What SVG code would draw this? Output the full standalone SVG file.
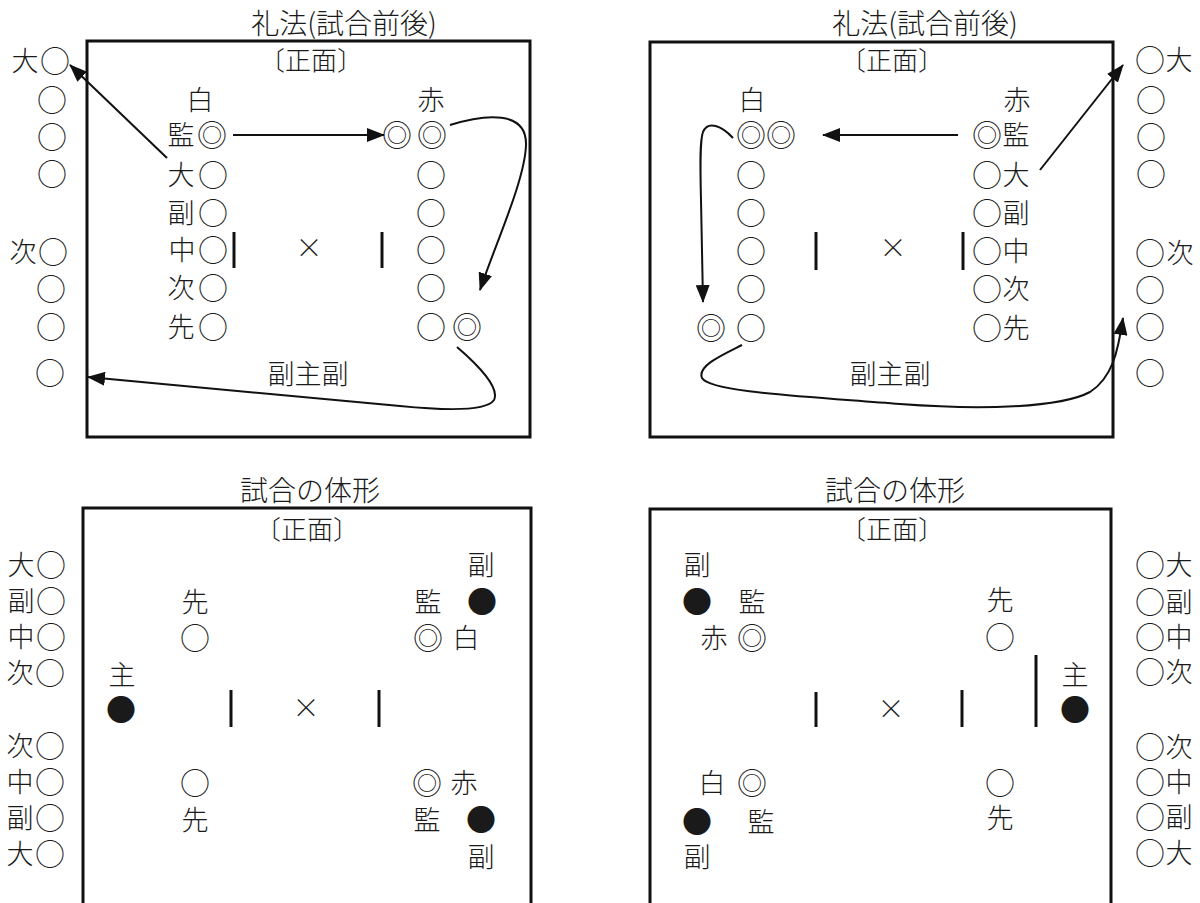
<svg xmlns="http://www.w3.org/2000/svg" width="1200" height="903" viewBox="0 0 1200 903">
<defs>
<style>
text { font-family: "Noto Sans CJK JP", "Noto Sans CJK SC", sans-serif; fill: #1a1a1a; font-weight: 300; }
.b { font-size: 27px; text-anchor: middle; }
.h { font-size: 28px; text-anchor: middle; }
.f { font-size: 26px; text-anchor: middle; }
.c { font-size: 30px; }
tspan.c { baseline-shift: -1px; }
.frame { fill: none; stroke: #111; stroke-width: 3; }
.bar { stroke: #111; stroke-width: 3; }
.arr { fill: none; stroke: #111; stroke-width: 2; marker-end: url(#ah); }
</style>
<marker id="ah" markerUnits="userSpaceOnUse" markerWidth="18" markerHeight="14" refX="17" refY="7" orient="auto"><path d="M0,0 L18,7 L0,14 z" fill="#111"/></marker>
</defs>
<rect width="1200" height="903" fill="#fff"/>

<!-- ===== Top-left panel ===== -->
<g id="panel-tl">
  <text class="h" x="344" y="34">礼法(試合前後)</text>
  <rect class="frame" x="87" y="41" width="443" height="396"/>
  <text class="f" x="311" y="70">〔正面〕</text>
  <text class="b" x="308" y="384">副主副</text>
  <text class="b" x="309" y="258">×</text>
  <line class="bar" x1="234" y1="232" x2="234" y2="268"/>
  <line class="bar" x1="382" y1="232" x2="382" y2="268"/>
</g>
<g id="tl-white">
  <text class="b" x="200" y="110">白</text>
  <text class="b" y="145"><tspan x="181">監</tspan><tspan class="c" x="212">◎</tspan></text>
  <text class="b" y="185"><tspan x="181">大</tspan><tspan class="c" x="213">○</tspan></text>
  <text class="b" y="223"><tspan x="181">副</tspan><tspan class="c" x="213">○</tspan></text>
  <text class="b" y="260"><tspan x="182">中</tspan><tspan class="c" x="213">○</tspan></text>
  <text class="b" y="298"><tspan x="181">次</tspan><tspan class="c" x="213">○</tspan></text>
  <text class="b" y="337"><tspan x="181">先</tspan><tspan class="c" x="213">○</tspan></text>
</g>
<g id="tl-red">
  <text class="b" x="431" y="110">赤</text>
  <text class="b" y="145"><tspan class="c" x="397">◎</tspan><tspan class="c" x="432">◎</tspan></text>
  <text class="b c" x="431" y="186">○</text>
  <text class="b c" x="431" y="224">○</text>
  <text class="b c" x="431" y="261">○</text>
  <text class="b c" x="431" y="299">○</text>
  <text class="b" y="337"><tspan class="c" x="431">○</tspan><tspan class="c" x="467">◎</tspan></text>
</g>
<g id="tl-outside">
  <text class="b" y="71"><tspan x="25">大</tspan><tspan class="c" x="55">○</tspan></text>
  <text class="b c" x="52" y="111">○</text>
  <text class="b c" x="52" y="148">○</text>
  <text class="b c" x="52" y="185">○</text>
  <text class="b" y="262"><tspan x="23">次</tspan><tspan class="c" x="53">○</tspan></text>
  <text class="b c" x="51" y="300">○</text>
  <text class="b c" x="51" y="338">○</text>
  <text class="b c" x="50" y="384">○</text>
</g>

<!-- ===== Top-right panel ===== -->
<g id="panel-tr">
  <text class="h" x="925" y="34">礼法(試合前後)</text>
  <rect class="frame" x="650" y="42" width="463" height="395"/>
  <text class="f" x="892" y="70">〔正面〕</text>
  <text class="b" x="890" y="384">副主副</text>
  <text class="b" x="893" y="258">×</text>
  <line class="bar" x1="816" y1="232" x2="816" y2="270"/>
  <line class="bar" x1="963" y1="232" x2="963" y2="270"/>
</g>
<g id="tr-white">
  <text class="b" x="752" y="110">白</text>
  <text class="b" y="145"><tspan class="c" x="751">◎</tspan><tspan class="c" x="781">◎</tspan></text>
  <text class="b c" x="751" y="186">○</text>
  <text class="b c" x="751" y="224">○</text>
  <text class="b c" x="751" y="262">○</text>
  <text class="b c" x="751" y="300">○</text>
  <text class="b" y="338"><tspan class="c" x="711">◎</tspan><tspan class="c" x="751">○</tspan></text>
</g>
<g id="tr-red">
  <text class="b" x="1017" y="110">赤</text>
  <text class="b" y="145"><tspan class="c" x="987">◎</tspan><tspan x="1016">監</tspan></text>
  <text class="b" y="185"><tspan class="c" x="987">○</tspan><tspan x="1016">大</tspan></text>
  <text class="b" y="223"><tspan class="c" x="987">○</tspan><tspan x="1016">副</tspan></text>
  <text class="b" y="261"><tspan class="c" x="987">○</tspan><tspan x="1016">中</tspan></text>
  <text class="b" y="299"><tspan class="c" x="987">○</tspan><tspan x="1016">次</tspan></text>
  <text class="b" y="338"><tspan class="c" x="987">○</tspan><tspan x="1016">先</tspan></text>
</g>
<g id="tr-outside">
  <text class="b" y="70"><tspan class="c" x="1150">○</tspan><tspan x="1179">大</tspan></text>
  <text class="b c" x="1151" y="111">○</text>
  <text class="b c" x="1151" y="148">○</text>
  <text class="b c" x="1151" y="185">○</text>
  <text class="b" y="263"><tspan class="c" x="1150">○</tspan><tspan x="1180">次</tspan></text>
  <text class="b c" x="1150" y="301">○</text>
  <text class="b c" x="1150" y="338">○</text>
  <text class="b c" x="1150" y="384">○</text>
</g>

<!-- ===== Bottom-left panel ===== -->
<g id="panel-bl">
  <text class="h" x="310" y="501">試合の体形</text>
  <path class="frame" d="M83,910 V508 H531 V910"/>
  <text class="f" x="307" y="539">〔正面〕</text>
  <text class="b" x="306" y="718">×</text>
  <line class="bar" x1="231" y1="690" x2="231" y2="727"/>
  <line class="bar" x1="379" y1="690" x2="379" y2="727"/>
</g>
<g id="bl-outside">
  <text class="b" y="575"><tspan x="21">大</tspan><tspan class="c" x="51">○</tspan></text>
  <text class="b" y="611"><tspan x="21">副</tspan><tspan class="c" x="51">○</tspan></text>
  <text class="b" y="647"><tspan x="21">中</tspan><tspan class="c" x="51">○</tspan></text>
  <text class="b" y="683"><tspan x="20">次</tspan><tspan class="c" x="50">○</tspan></text>
  <text class="b" y="756"><tspan x="20">次</tspan><tspan class="c" x="50">○</tspan></text>
  <text class="b" y="792"><tspan x="20">中</tspan><tspan class="c" x="50">○</tspan></text>
  <text class="b" y="828"><tspan x="20">副</tspan><tspan class="c" x="50">○</tspan></text>
  <text class="b" y="864"><tspan x="20">大</tspan><tspan class="c" x="50">○</tspan></text>
</g>
<g id="bl-players">
  <text class="b" x="195" y="612">先</text>
  <text class="b c" x="195" y="649">○</text>
  <text class="b" x="122" y="685">主</text>
  <text class="b c" x="121" y="721">●</text>
  <text class="b c" x="195" y="794">○</text>
  <text class="b" x="195" y="830">先</text>
</g>
<g id="bl-judges">
  <text class="b" x="481" y="575">副</text>
  <text class="b" y="612"><tspan x="428">監</tspan><tspan class="c" x="482">●</tspan></text>
  <text class="b" y="648"><tspan class="c" x="428">◎</tspan><tspan x="466">白</tspan></text>
  <text class="b" y="793"><tspan class="c" x="427">◎</tspan><tspan x="464">赤</tspan></text>
  <text class="b" y="830"><tspan x="427">監</tspan><tspan class="c" x="481">●</tspan></text>
  <text class="b" x="481" y="867">副</text>
</g>

<!-- ===== Bottom-right panel ===== -->
<g id="panel-br">
  <text class="h" x="895" y="501">試合の体形</text>
  <path class="frame" d="M650,910 V509 H1111 V910"/>
  <text class="f" x="892" y="539">〔正面〕</text>
  <text class="b" x="891" y="719">×</text>
  <line class="bar" x1="816" y1="692" x2="816" y2="727"/>
  <line class="bar" x1="962" y1="690" x2="962" y2="727"/>
  <line class="bar" x1="1036" y1="655" x2="1036" y2="727"/>
</g>
<g id="br-judges">
  <text class="b" x="697" y="575">副</text>
  <text class="b" y="612"><tspan class="c" x="697">●</tspan><tspan x="752">監</tspan></text>
  <text class="b" y="648"><tspan x="714">赤</tspan><tspan class="c" x="752">◎</tspan></text>
  <text class="b" y="793"><tspan x="712">白</tspan><tspan class="c" x="752">◎</tspan></text>
  <text class="b" y="832"><tspan class="c" x="697">●</tspan><tspan x="761">監</tspan></text>
  <text class="b" x="697" y="867">副</text>
</g>
<g id="br-players">
  <text class="b" x="1000" y="610">先</text>
  <text class="b c" x="1000" y="648">○</text>
  <text class="b" x="1075" y="685">主</text>
  <text class="b c" x="1075" y="721">●</text>
  <text class="b c" x="1000" y="794">○</text>
  <text class="b" x="1000" y="828">先</text>
</g>
<g id="br-outside">
  <text class="b" y="575"><tspan class="c" x="1150">○</tspan><tspan x="1179">大</tspan></text>
  <text class="b" y="612"><tspan class="c" x="1150">○</tspan><tspan x="1179">副</tspan></text>
  <text class="b" y="647"><tspan class="c" x="1150">○</tspan><tspan x="1179">中</tspan></text>
  <text class="b" y="682"><tspan class="c" x="1150">○</tspan><tspan x="1179">次</tspan></text>
  <text class="b" y="757"><tspan class="c" x="1150">○</tspan><tspan x="1179">次</tspan></text>
  <text class="b" y="792"><tspan class="c" x="1150">○</tspan><tspan x="1179">中</tspan></text>
  <text class="b" y="827"><tspan class="c" x="1150">○</tspan><tspan x="1179">副</tspan></text>
  <text class="b" y="863"><tspan class="c" x="1150">○</tspan><tspan x="1179">大</tspan></text>
</g>

<!-- ===== Connectors ===== -->
<g id="connectors">
  <path class="arr" d="M233,135 L384,135"/>
  <path class="arr" d="M167,158 L70,65"/>
  <path class="arr" d="M450,125 C485,114 527,110 526,145 C525,180 495,245 480,290"/>
  <path class="arr" d="M457,347 C478,365 500,388 494,400 C486,412 440,410 400,406 C340,400 200,388 88,377"/>
  <path class="arr" d="M958,135 L823,135"/>
  <path class="arr" d="M1040,170 L1123,65"/>
  <path class="arr" d="M733,138 C722,126 708,120 703,132 C700,140 700,160 701,200 L703,302"/>
  <path class="arr" d="M742,345 C722,355 697,366 702,378 C710,392 800,396 900,404 C980,410 1060,408 1090,392 C1112,378 1118,352 1123,318"/>
</g>
</svg>
